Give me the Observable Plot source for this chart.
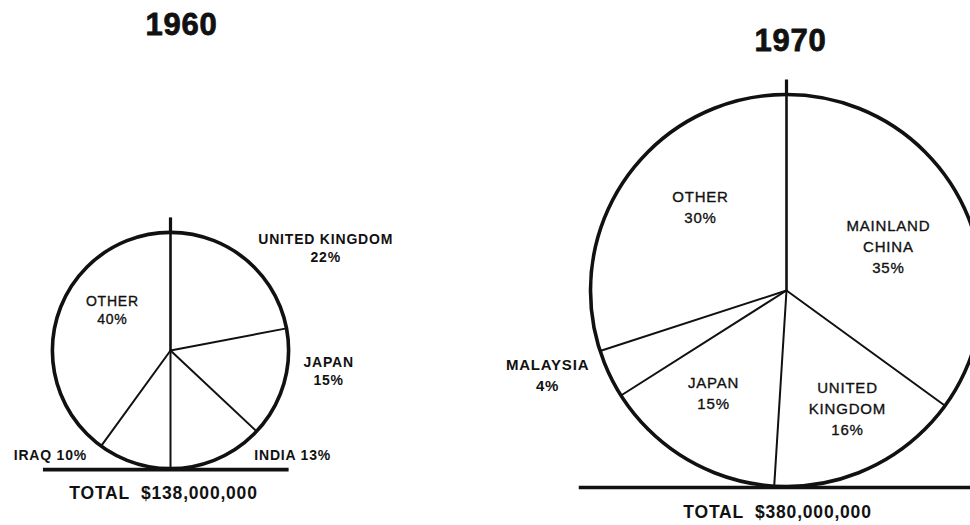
<!DOCTYPE html>
<html>
<head>
<meta charset="utf-8">
<script src="https://cdn.jsdelivr.net/npm/d3@7"></script>
<script src="https://cdn.jsdelivr.net/npm/@observablehq/plot@0.6"></script>
<style>
  html, body { margin: 0; padding: 0; background: #ffffff; }
  #chart svg { display: block; background: #ffffff; }
  #chart svg text { letter-spacing: 0.8px; }
</style>
</head>
<body>
<div id="chart"></div>
<script>
// ---- DATA ----
const years = ["1960", "1970"];
const totals = [138000000, 380000000];
const totalLabels = ["TOTAL  $138,000,000", "TOTAL  $380,000,000"];

const countries1960 = ["UNITED KINGDOM", "JAPAN", "INDIA", "IRAQ", "OTHER"];
const shares1960 = [22, 15, 13, 10, 40];

const countries1970 = ["MAINLAND CHINA", "UNITED KINGDOM", "JAPAN", "MALAYSIA", "OTHER"];
const shares1970 = [35, 16, 15, 4, 30];

// ---- LAYOUT (positions / styles, not data) ----
const W = 970, H = 525;
const pieLayout = [
  {cx: 170, cy: 350, titleX: 181, titleY: 25, baseLeft: 1.08, totalDx: -7, totalDy: 25, labelSize: 14, lineHeight: 1.28},
  {cx: 786, cy: 290, titleX: 790, titleY: 41, baseLeft: 1.06, totalDx: -9, totalDy: 26, labelSize: 15, lineHeight: 1.4}
];
// label centre offsets in units of the pie radius
const labelLayouts = [
  [
    {dx: 1.314, dy: -0.864, wrap: "pct", bold: true},
    {dx: 1.339, dy: 0.178, wrap: "pct", bold: true},
    {dx: 1.034, dy: 0.890, wrap: "none", bold: true},
    {dx: -1.017, dy: 0.890, wrap: "none", bold: true},
    {dx: -0.492, dy: -0.335, wrap: "pct", bold: false}
  ],
  [
    {dx: 0.520, dy: -0.219, wrap: "all", bold: false},
    {dx: 0.311, dy: 0.607, wrap: "all", bold: false},
    {dx: -0.372, dy: 0.528, wrap: "pct", bold: false},
    {dx: -1.219, dy: 0.436, wrap: "pct", bold: true},
    {dx: -0.439, dy: -0.421, wrap: "pct", bold: false}
  ]
];
const maxRadius = 196;
const FONT = "Liberation Sans, Arial, sans-serif";

// ---- BUILD ----
const rScaleOpts = {type: "sqrt", domain: [0, d3.max(totals)], range: [0, maxRadius]};
const rScale = Plot.scale({r: rScaleOpts});

const seriesNames = [countries1960, countries1970];
const seriesShares = [shares1960, shares1970];

const pies = years.map((year, i) => {
  const L = pieLayout[i];
  return {year, total: totals[i], totalLabel: totalLabels[i], cx: L.cx, cy: L.cy, R: rScale.apply(totals[i]), L};
});

const boundaries = [];
const ticks = [];
const labelLines = [];
pies.forEach((p, i) => {
  const rows = seriesNames[i].map((name, j) => ({name, share: seriesShares[i][j], lay: labelLayouts[i][j]}));
  const arcs = d3.pie().sort(null).value(d => d.share)(rows);
  arcs.forEach(a => {
    const ang = a.startAngle;
    boundaries.push({x1: p.cx, y1: p.cy, x2: p.cx + p.R * Math.sin(ang), y2: p.cy - p.R * Math.cos(ang), main: ang === 0});
    const d = a.data, lay = d.lay;
    let lines;
    if (lay.wrap === "none") lines = [`${d.name} ${d.share}%`];
    else if (lay.wrap === "pct") lines = [d.name, `${d.share}%`];
    else lines = [...d.name.split(" "), `${d.share}%`];
    const step = p.L.labelSize * p.L.lineHeight;
    const cxl = p.cx + lay.dx * p.R, cyl = p.cy + lay.dy * p.R;
    lines.forEach((t, k) => {
      labelLines.push({x: cxl, y: cyl + (k - (lines.length - 1) / 2) * step, text: t, bold: lay.bold, pie: i});
    });
  });
  ticks.push({x1: p.cx, y1: p.cy - p.R, x2: p.cx, y2: p.cy - p.R - 15});
});

const baselines = pies.map(p => ({x1: p.cx - p.L.baseLeft * p.R, x2: p.cx + p.R, y: p.cy + p.R + 1}));

const labelMarks = [];
[0, 1].forEach(i => {
  [true, false].forEach(b => {
    const sub = labelLines.filter(l => l.pie === i && l.bold === b);
    if (!sub.length) return;
    labelMarks.push(Plot.text(sub, {
      x: "x", y: "y", text: "text",
      fontSize: pieLayout[i].labelSize,
      fontWeight: b ? "bold" : "normal",
      fontFamily: FONT,
      fill: "#111",
      stroke: b ? "none" : "#111",
      strokeWidth: b ? 0 : 0.35,
      textAnchor: "middle"
    }));
  });
});

const chart = Plot.plot({
  width: W,
  height: H,
  margin: 0,
  x: {type: "identity", axis: null},
  y: {type: "identity", axis: null},
  r: rScaleOpts,
  style: {background: "#ffffff", fontFamily: FONT},
  marks: [
    // slice boundaries
    Plot.link(boundaries, {x1: "x1", y1: "y1", x2: "x2", y2: "y2", stroke: "#111",
      strokeWidth: d => d.main ? 2.6 : 2, strokeLinecap: "round"}),
    // top tick above circle
    Plot.link(ticks, {x1: "x1", y1: "y1", x2: "x2", y2: "y2", stroke: "#111", strokeWidth: 3.2}),
    // circle outline
    Plot.dot(pies, {x: "cx", y: "cy", r: "total", stroke: "#111", strokeWidth: 3.6, fill: "none"}),
    // ground line
    Plot.link(baselines, {x1: "x1", x2: "x2", y1: "y", y2: "y", stroke: "#111", strokeWidth: 3.6}),
    // titles
    Plot.text(pies, {x: d => d.L.titleX, y: d => d.L.titleY, text: "year", fontSize: 31, fontWeight: "bold",
      fontFamily: FONT, fill: "#111", stroke: "#111", strokeWidth: 0.8}),
    // totals
    Plot.text(pies, {x: d => d.cx + d.L.totalDx, y: d => d.cy + d.R + d.L.totalDy, text: "totalLabel",
      fontSize: 17.5, fontWeight: "bold", fontFamily: FONT, fill: "#111"}),
    ...labelMarks
  ]
});

document.getElementById("chart").appendChild(chart);
</script>
</body>
</html>
